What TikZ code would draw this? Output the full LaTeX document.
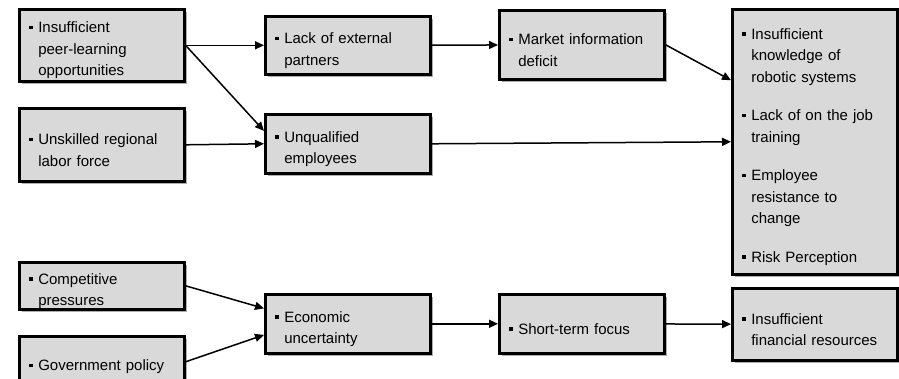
\documentclass[tikz,border=0pt]{standalone}
\usepackage{fontspec}
\setmainfont{Liberation Sans}
\usetikzlibrary{arrows.meta,shadows,calc}
\definecolor{boxgray}{HTML}{D9D9D9}
\newcommand{\bul}{\makebox[9pt][l]{\rule[3.5pt]{3.5pt}{3.5pt}}}
\newcommand{\itm}[1]{\par\hangindent=9pt\hangafter=1\noindent\bul #1\par}
\newcommand{\gap}{\vspace{17pt}}
\newcommand{\nl}{\newline}
\begin{document}
\begin{tikzpicture}[x=1pt,y=-1pt,
  box/.style={draw, line width=2.6pt, fill=boxgray,
    drop shadow={shadow xshift=3pt, shadow yshift=-3pt, fill=black!70, opacity=.45},
    anchor=north west, inner xsep=10pt, inner ysep=0pt,
    text width=145pt, minimum width=165pt,
    font=\fontsize{15}{21.5}\selectfont, align=left},
  arr/.style={-{Triangle[length=9pt,width=8pt]}, line width=1.5pt}]
\useasboundingbox (0,0) rectangle (899,379);
\fill[white] (0,0) rectangle (899,379);
% boxes
\node[box, minimum height=72pt] (A) at (18,8) {\itm{Insufficient\nl peer-learning\nl opportunities}};
\node[box, minimum height=73pt] (B) at (18,107) {\itm{Unskilled regional\nl labor force}};
\node[box, minimum height=58pt] (C) at (264,15) {\itm{Lack of external\nl partners}};
\node[box, minimum height=59pt] (D) at (264,113) {\itm{Unqualified\nl employees}};
\node[box, minimum height=69pt] (E) at (498,9) {\itm{Market information\nl deficit}};
\node[box, minimum height=265pt] (F) at (731,8) {\itm{Insufficient\nl knowledge of\nl robotic systems}\gap\itm{Lack of on the job\nl training}\gap\itm{Employee\nl resistance to\nl change}\gap\itm{Risk Perception}};
\node[box, minimum height=47pt] (G) at (18,261) {\itm{Competitive\nl pressures}};
\node[box, minimum height=51pt] (H) at (18,335) {\itm{Government policy}};
\node[box, minimum height=59pt] (I) at (264,293) {\itm{Economic\nl uncertainty}};
\node[box, minimum height=59pt] (J) at (498,293) {\itm{Short-term focus}};
\node[box, minimum height=72pt] (K) at (731,287) {\itm{Insufficient\nl financial resources}};
% connectors
\draw[arr] (A) -- (C);
\draw[arr] (A.east) -- ($(D.north west)!0.29!(D.south west)$);
\draw[arr] (B.east) -- (D.west);
\draw[arr] (C) -- (E);
\draw[arr] (E.east) -- ($(F.north west)!0.27!(F.south west)$);
\draw[arr] (D.east) -- (F.west);
\draw[arr] (G.east) -- ($(I.north west)!0.25!(I.south west)$);
\draw[arr] (H.east) -- ($(I.north west)!0.68!(I.south west)$);
\draw[arr] (I) -- (J);
\draw[arr] (J) -- (K);
\end{tikzpicture}
\end{document}
